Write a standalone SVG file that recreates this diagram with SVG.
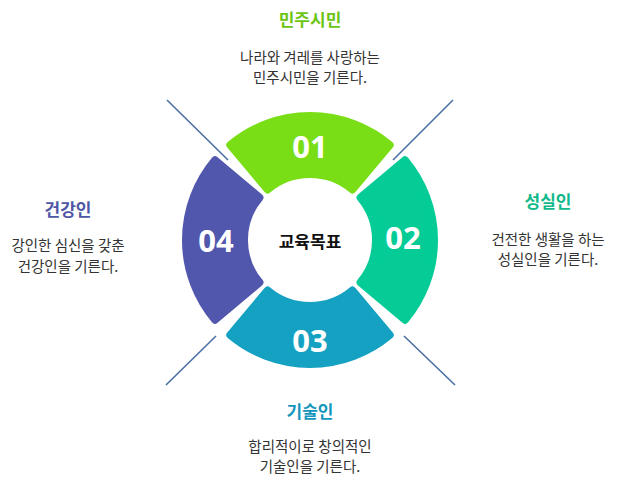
<svg xmlns="http://www.w3.org/2000/svg" width="621" height="491" viewBox="0 0 621 491">
<style>
.t{font-family:"Noto Sans CJK KR","Noto Sans",sans-serif;text-anchor:middle}
.h{font-size:17px;font-weight:bold}
.d{font-size:14.5px;fill:#333}
.n{font-family:"Noto Sans","Liberation Sans",sans-serif;font-size:31px;font-weight:bold;fill:#fff;text-anchor:middle}
.seg{stroke-width:8;stroke-linejoin:round}
</style>
<rect width="621" height="491" fill="#fff"/>
<g id="connectors" stroke="#4a6fa5" stroke-width="1.6">
<line x1="167" y1="100" x2="228" y2="160"/>
<line x1="453" y1="100" x2="393" y2="160"/>
<line x1="166" y1="385" x2="216" y2="336"/>
<line x1="404" y1="336" x2="455" y2="385"/>
</g>
<g id="seg01"><path class="seg" fill="#7ade17" stroke="#7ade17" d="M230.3,145 A124 124 0 0 1 389.7,145 L352.4,189.4 A66 66 0 0 0 267.6,189.4 Z"/><text class="n" x="310" y="158">01</text></g>
<g id="seg02"><path class="seg" fill="#05cc97" stroke="#05cc97" d="M405,160.3 A124 124 0 0 1 405,319.7 L360.6,282.4 A66 66 0 0 0 360.6,197.6 Z"/><text class="n" x="403" y="249">02</text></g>
<g id="seg03"><path class="seg" fill="#15a1c2" stroke="#15a1c2" d="M389.7,335 A124 124 0 0 1 230.3,335 L267.6,290.6 A66 66 0 0 0 352.4,290.6 Z"/><text class="n" x="310" y="352">03</text></g>
<g id="seg04"><path class="seg" fill="#5057ad" stroke="#5057ad" d="M215,319.7 A124 124 0 0 1 215,160.3 L259.4,197.6 A66 66 0 0 0 259.4,282.4 Z"/><text class="n" x="216" y="252">04</text></g>
<g id="center"><text class="t h" x="310" y="248" fill="#111">교육목표</text></g>
<g id="n1"><text class="t h" x="310" y="26" fill="#6cc414">민주시민</text><text class="t d" x="310" y="63">나라와 겨레를 사랑하는</text><text class="t d" x="310" y="83">민주시민을 기른다.</text></g>
<g id="n2"><text class="t h" x="548" y="208" fill="#10b98a">성실인</text><text class="t d" x="548" y="245">건전한 생활을 하는</text><text class="t d" x="548" y="265">성실인을 기른다.</text></g>
<g id="n3"><text class="t h" x="310" y="418" fill="#1496bd">기술인</text><text class="t d" x="310" y="452">합리적이로 창의적인</text><text class="t d" x="310" y="472">기술인을 기른다.</text></g>
<g id="n4"><text class="t h" x="68" y="216" fill="#4e56a6">건강인</text><text class="t d" x="68" y="251">강인한 심신을 갖춘</text><text class="t d" x="68" y="272">건강인을 기른다.</text></g>
</svg>
